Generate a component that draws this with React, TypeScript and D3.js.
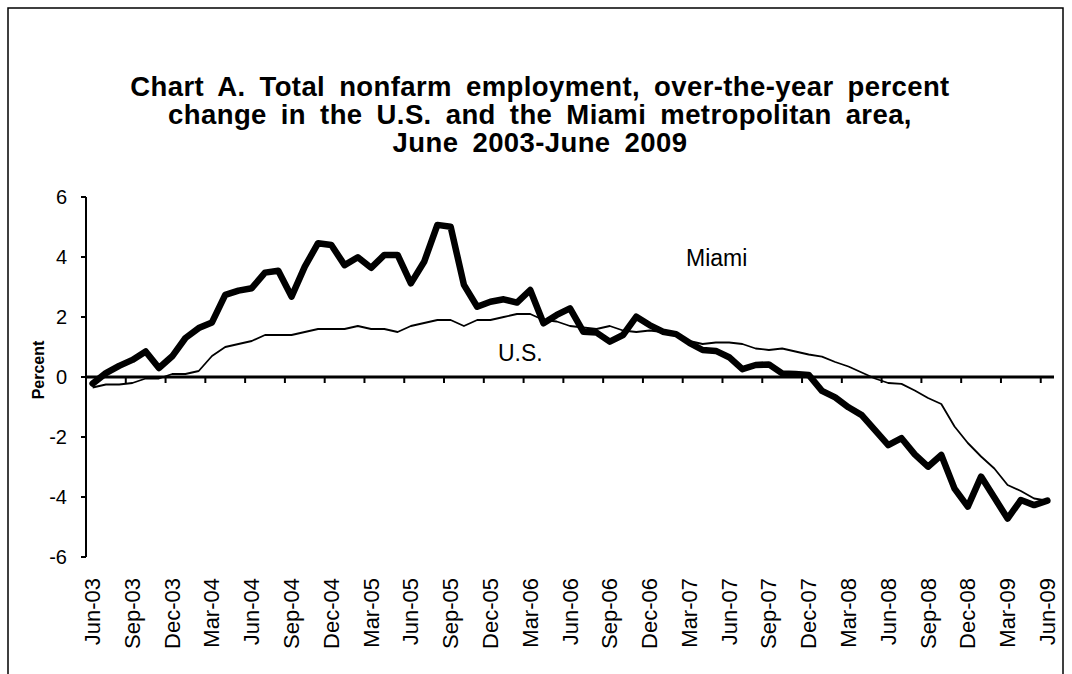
import React from "react";
import * as d3 from "d3";

// monthly, June 2003 through June 2009
const months = d3.timeMonth.range(new Date(2003, 5, 1), new Date(2009, 6, 1));

const miami = [
  -0.22, 0.13, 0.37, 0.57, 0.85, 0.3, 0.69, 1.3, 1.63, 1.82, 2.74, 2.88, 2.96,
  3.48, 3.54, 2.68, 3.68, 4.46, 4.4, 3.73, 3.99, 3.64, 4.07, 4.07, 3.12, 3.84,
  5.07, 5.01, 3.07, 2.34, 2.51, 2.59, 2.48, 2.9, 1.79, 2.07, 2.29, 1.51, 1.48,
  1.18, 1.4, 2.01, 1.73, 1.51, 1.43, 1.14, 0.9, 0.87, 0.66, 0.26, 0.4, 0.42,
  0.12, 0.1, 0.07, -0.46, -0.68, -1.01, -1.27, -1.77, -2.27, -2.04, -2.58,
  -2.99, -2.6, -3.72, -4.32, -3.32, -4.02, -4.72, -4.1, -4.27, -4.12,
];

const us = [
  -0.35, -0.25, -0.25, -0.2, -0.05, -0.05, 0.1, 0.1, 0.2, 0.7, 1.0, 1.1, 1.2,
  1.4, 1.4, 1.4, 1.5, 1.6, 1.6, 1.6, 1.7, 1.6, 1.6, 1.5, 1.7, 1.8, 1.9, 1.9,
  1.7, 1.9, 1.9, 2.0, 2.1, 2.1, 1.9, 1.85, 1.7, 1.65, 1.6, 1.7, 1.55, 1.5,
  1.55, 1.5, 1.4, 1.2, 1.1, 1.15, 1.15, 1.1, 0.95, 0.9, 0.95, 0.85, 0.75,
  0.68, 0.5, 0.35, 0.15, -0.05, -0.2, -0.23, -0.45, -0.7, -0.9, -1.65, -2.2,
  -2.65, -3.05, -3.6, -3.8, -4.05, -4.12,
];

const tickLabels = [
  "Jun-03", "Sep-03", "Dec-03", "Mar-04", "Jun-04", "Sep-04", "Dec-04",
  "Mar-05", "Jun-05", "Sep-05", "Dec-05", "Mar-06", "Jun-06", "Sep-06",
  "Dec-06", "Mar-07", "Jun-07", "Sep-07", "Dec-07", "Mar-08", "Jun-08",
  "Sep-08", "Dec-08", "Mar-09", "Jun-09",
];

const yTicks = [-6, -4, -2, 0, 2, 4, 6];

const titleLines = [
  "Chart A. Total nonfarm employment, over-the-year percent",
  "change in the U.S. and the Miami metropolitan area,",
  "June 2003-June 2009",
];

const font = "Arial, 'Liberation Sans', Helvetica, sans-serif";

export default function App() {
  const W = 1072;
  const H = 674;
  const left = 86;
  const right = 1054;

  // category axis: each month gets a band, points sit in the middle
  const x = d3.scaleLinear().domain([0, months.length]).range([left, right]);
  const y = d3.scaleLinear().domain([-6, 6]).range([557, 197]);

  const line = d3
    .line<number>()
    .x((d, i) => x(i + 0.5))
    .y((d) => y(d));

  // tick marks on every third band boundary, labels under every third month
  const tickIdx = d3.range(0, months.length, 3);

  return (
    <svg
      width={W}
      height={H}
      style={{ position: "absolute", left: 0, top: 0, background: "#fff" }}
      fontFamily={font}
    >
      <rect x={8} y={8} width={1055} height={700} fill="none" stroke="#000" strokeWidth={1.5} />

      {titleLines.map((t, i) => (
        <text
          key={t}
          x={540}
          y={96 + i * 28}
          textAnchor="middle"
          fontSize={27.5}
          fontWeight="bold"
          style={{ wordSpacing: "6px", letterSpacing: "0.4px" }}
        >
          {t}
        </text>
      ))}

      {/* y axis */}
      <line x1={left} x2={left} y1={y(6)} y2={y(-6)} stroke="#000" strokeWidth={2} />
      {yTicks.map((v) => (
        <g key={v}>
          <line x1={left - 5} x2={left} y1={y(v)} y2={y(v)} stroke="#000" strokeWidth={2} />
          <text x={67} y={y(v) + 7} textAnchor="end" fontSize={20}>
            {v}
          </text>
        </g>
      ))}
      <text
        transform={`translate(44,${y(0) - 7}) rotate(-90)`}
        textAnchor="middle"
        fontSize={16}
        fontWeight="bold"
      >
        Percent
      </text>

      {/* x axis crosses at zero */}
      <line x1={left} x2={right} y1={y(0)} y2={y(0)} stroke="#000" strokeWidth={3} />
      {tickIdx.map((i) => (
        <line key={i} x1={x(i)} x2={x(i)} y1={y(0)} y2={y(0) + 6} stroke="#000" strokeWidth={2} />
      ))}
      {tickIdx.map((i, k) => (
        <text
          key={"l" + i}
          transform={`translate(${x(i + 0.5) + 7.5},578) rotate(-90)`}
          textAnchor="end"
          fontSize={22}
        >
          {tickLabels[k]}
        </text>
      ))}

      <path d={line(us) ?? ""} fill="none" stroke="#000" strokeWidth={1.8} strokeLinejoin="round" />
      <path d={line(miami) ?? ""} fill="none" stroke="#000" strokeWidth={6.5} strokeLinejoin="round" strokeLinecap="round" />

      <text x={686} y={266} fontSize={23}>
        Miami
      </text>
      <text x={498} y={361} fontSize={23}>
        U.S.
      </text>
    </svg>
  );
}
